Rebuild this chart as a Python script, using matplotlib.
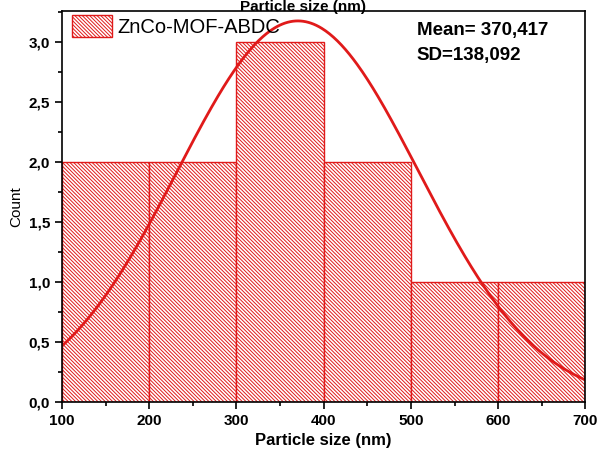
import numpy as np
import matplotlib
matplotlib.use("Agg")
import matplotlib.pyplot as plt
from matplotlib.ticker import FuncFormatter, MultipleLocator

plt.rcParams['font.family'] = ['Liberation Sans', 'DejaVu Sans']
plt.rcParams['hatch.linewidth'] = 0.7
plt.rcParams['hatch.color'] = '#b02828'

# histogram data
bin_edges = [100, 200, 300, 400, 500, 600, 700]
counts = [2, 2, 3, 2, 1, 1]
label = "ZnCo-MOF-ABDC"
mean_nm = 370.417
sd_nm = 138.092

fig = plt.figure(figsize=(6.05, 4.61), dpi=100)
ax = fig.add_axes([0.1025, 0.128, 0.865, 0.848])

lefts = bin_edges[:-1]
widths = np.diff(bin_edges)
ax.bar(lefts, counts, width=widths, align='edge', facecolor='white',
       edgecolor='#e01a1a', linewidth=1.0, hatch='\\' * 9, label=label)

# normal fit from the reported mean / SD, scaled to the histogram
xs = np.linspace(100, 700, 400)
scale = sum(counts) * widths[0]
ys = scale / (sd_nm * np.sqrt(2 * np.pi)) * np.exp(-0.5 * ((xs - mean_nm) / sd_nm) ** 2)
ax.plot(xs, ys, color='#e01a1a', linewidth=2)

ax.set_xlim(100, 700)
ax.set_ylim(0, 3.26)
ax.xaxis.set_major_locator(MultipleLocator(100))
ax.xaxis.set_minor_locator(MultipleLocator(50))
ax.yaxis.set_major_locator(MultipleLocator(0.5))
ax.yaxis.set_minor_locator(MultipleLocator(0.25))
ax.yaxis.set_major_formatter(FuncFormatter(lambda v, p: f"{v:.1f}".replace('.', ',')))
ax.tick_params(which='both', direction='out', width=1.2, labelsize=11)
ax.tick_params(which='major', length=5)
ax.tick_params(which='minor', length=3)
for lab in ax.get_xticklabels() + ax.get_yticklabels():
    lab.set_fontweight('bold')
for s in ax.spines.values():
    s.set_linewidth(1.2)

ax.set_xlabel("Particle size (nm)", fontsize=12, fontweight='bold', labelpad=4)
ax.set_ylabel("Count", fontsize=11)
fig.text(0.5, 1.0, "Particle size (nm)", ha='center', va='top',
         fontsize=11, fontweight='bold')

ax.text(0.678, 0.972, "Mean= 370,417\nSD=138,092", transform=ax.transAxes,
        ha='left', va='top', fontsize=13.5, fontweight='bold', linespacing=1.6)

ax.legend(loc='upper left', frameon=False, fontsize=14.5, handlelength=2.0,
          handleheight=1.3, borderaxespad=0.1, handletextpad=0.25,
          bbox_to_anchor=(0.0, 1.015))

fig.savefig("out.png", dpi=100)
